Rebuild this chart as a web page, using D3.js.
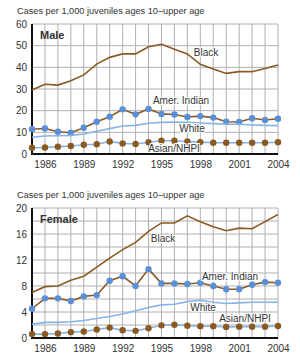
<!DOCTYPE html>
<html>
<head>
<meta charset="utf-8">
<script src="https://cdn.jsdelivr.net/npm/d3@7"></script>
<style>
  body { margin: 0; background: #fff; }
  svg { font-family: "Liberation Sans", Arial, sans-serif; }
</style>
</head>
<body>
<div id="chart"></div>
<script>
const years = d3.range(1985, 2005);
const tickYears = [1986, 1989, 1992, 1995, 1998, 2001, 2004];

const maleBlack = [29.5, 32.2, 31.8, 33.8, 36.5, 41.5, 44.6, 46.2, 46.2, 49.5, 50.6, 48.3, 46.2, 41.4, 39.2, 37.2, 38.0, 38.0, 39.5, 41.1];
const maleAmerIndian = [11.4, 11.8, 10.3, 9.8, 12.1, 14.9, 17.2, 20.6, 18.3, 20.8, 18.5, 18.2, 17.1, 17.5, 16.8, 14.9, 14.8, 16.5, 15.7, 16.3];
const maleWhite = [7.7, 8.3, 8.4, 8.6, 9.2, 10.5, 11.7, 12.9, 13.2, 14.2, 14.6, 14.8, 14.6, 14.3, 14.0, 13.7, 13.7, 13.4, 13.2, 13.1];
const maleAsian = [2.9, 3.0, 3.4, 3.7, 4.3, 4.5, 5.8, 4.9, 4.6, 5.4, 6.1, 6.1, 5.8, 5.5, 5.2, 5.2, 5.2, 5.2, 5.2, 5.4];

const femaleBlack = [7.0, 7.9, 8.0, 8.9, 9.5, 10.9, 12.3, 13.6, 14.7, 16.4, 17.7, 17.7, 18.8, 17.9, 17.1, 16.5, 16.9, 16.8, 17.9, 19.0];
const femaleAmerIndian = [4.5, 6.1, 6.1, 5.7, 6.4, 6.6, 8.8, 9.5, 8.0, 10.6, 8.4, 8.4, 8.3, 8.5, 8.0, 7.5, 7.5, 8.2, 8.6, 8.5];
const femaleWhite = [2.1, 2.4, 2.4, 2.5, 2.7, 3.0, 3.3, 3.7, 4.2, 4.7, 5.1, 5.2, 5.6, 5.8, 5.5, 5.3, 5.4, 5.5, 5.5, 5.5];
const femaleAsian = [0.6, 0.6, 0.7, 0.9, 1.0, 1.3, 1.6, 1.2, 1.1, 1.5, 1.95, 2.05, 1.9, 1.8, 1.8, 1.7, 1.75, 1.75, 1.75, 1.85];

const brown = "#8a5a22";
const dotBlue = "#5a8fd8";
const lineBlue = "#86b4e8";

const width = 300, height = 364;
const svg = d3.select("#chart").append("svg")
  .attr("width", width)
  .attr("height", height);

function panel(top, opts) {
  const g = svg.append("g").attr("transform", `translate(0,${top})`);
  const x = d3.scaleLinear().domain([1985, 2004]).range([32, 278]);
  const y = d3.scaleLinear().domain([0, opts.max]).range([154, 24]);

  g.append("text")
    .attr("x", 17).attr("y", 14)
    .attr("font-size", 9.2).attr("fill", "#333")
    .text("Cases per 1,000 juveniles ages 10\u2013upper age");

  // grid
  g.append("g").selectAll("line")
    .data(years.slice(1))
    .join("line")
    .attr("x1", d => x(d)).attr("x2", d => x(d))
    .attr("y1", y(opts.max)).attr("y2", y(0))
    .attr("stroke", "#b0b0b0").attr("stroke-width", 1);
  g.append("g").selectAll("line")
    .data(d3.range(opts.grid, opts.max + 0.001, opts.grid))
    .join("line")
    .attr("x1", x(1985)).attr("x2", x(2004))
    .attr("y1", d => y(d)).attr("y2", d => y(d))
    .attr("stroke", "#b0b0b0").attr("stroke-width", 1);

  // axes
  const yAxis = d3.axisLeft(y).tickValues(opts.ticks).tickSize(0).tickPadding(5);
  const ya = g.append("g").attr("transform", `translate(${x(1985)},0)`).call(yAxis);
  ya.select(".domain").remove();
  ya.selectAll("text").attr("font-size", 10).attr("fill", "#333")
    .attr("font-family", "Liberation Sans, Arial, sans-serif");

  const xAxis = d3.axisBottom(x).tickValues(tickYears).tickFormat(d3.format("d")).tickSize(0).tickPadding(7);
  const xa = g.append("g").attr("transform", `translate(0,${y(0)})`).call(xAxis);
  xa.select(".domain").remove();
  xa.selectAll("text").attr("font-size", 10).attr("fill", "#333")
    .attr("font-family", "Liberation Sans, Arial, sans-serif");

  g.append("line")
    .attr("x1", x(1985)).attr("x2", x(2004))
    .attr("y1", y(0)).attr("y2", y(0))
    .attr("stroke", "#111").attr("stroke-width", 2);
  g.append("line")
    .attr("x1", x(1985)).attr("x2", x(1985))
    .attr("y1", y(opts.max)).attr("y2", y(0) + 1)
    .attr("stroke", "#111").attr("stroke-width", 2);

  const line = d3.line().x((d, i) => x(years[i])).y(d => y(d));

  opts.series.forEach(s => {
    g.append("path")
      .datum(s.values)
      .attr("fill", "none")
      .attr("stroke", s.stroke)
      .attr("stroke-width", 1.6)
      .attr("d", line);
    if (s.dot) {
      g.append("g").selectAll("circle")
        .data(s.values)
        .join("circle")
        .attr("cx", (d, i) => x(years[i]))
        .attr("cy", d => y(d))
        .attr("r", 3.2)
        .attr("fill", s.dot);
    }
  });

  g.append("text")
    .attr("x", 40).attr("y", 39)
    .attr("font-size", 11).attr("font-weight", "bold").attr("fill", "#333")
    .text(opts.name);

  opts.labels.forEach(l => {
    g.append("text")
      .attr("x", l.x).attr("y", l.y)
      .attr("text-anchor", "middle")
      .attr("font-size", 10).attr("fill", "#333")
      .attr("stroke", "#fff").attr("stroke-width", 2).attr("paint-order", "stroke")
      .text(l.text);
  });
}

panel(0, {
  name: "Male", max: 60, grid: 10, ticks: [0, 10, 20, 30, 40, 50, 60],
  series: [
    { values: maleBlack, stroke: brown },
    { values: maleAmerIndian, stroke: brown, dot: dotBlue },
    { values: maleWhite, stroke: lineBlue },
    { values: maleAsian, stroke: lineBlue, dot: brown }
  ],
  labels: [
    { text: "Black", x: 206, y: 56 },
    { text: "Amer. Indian", x: 181, y: 104 },
    { text: "White", x: 192, y: 132 },
    { text: "Asian/NHPI", x: 174, y: 152 }
  ]
});

panel(184, {
  name: "Female", max: 20, grid: 2, ticks: [0, 4, 8, 12, 16, 20],
  series: [
    { values: femaleBlack, stroke: brown },
    { values: femaleAmerIndian, stroke: brown, dot: dotBlue },
    { values: femaleWhite, stroke: lineBlue },
    { values: femaleAsian, stroke: lineBlue, dot: brown }
  ],
  labels: [
    { text: "Black", x: 163, y: 58 },
    { text: "Amer. Indian", x: 230, y: 96 },
    { text: "White", x: 203, y: 127 },
    { text: "Asian/NHPI", x: 245, y: 138 }
  ]
});
</script>
</body>
</html>
